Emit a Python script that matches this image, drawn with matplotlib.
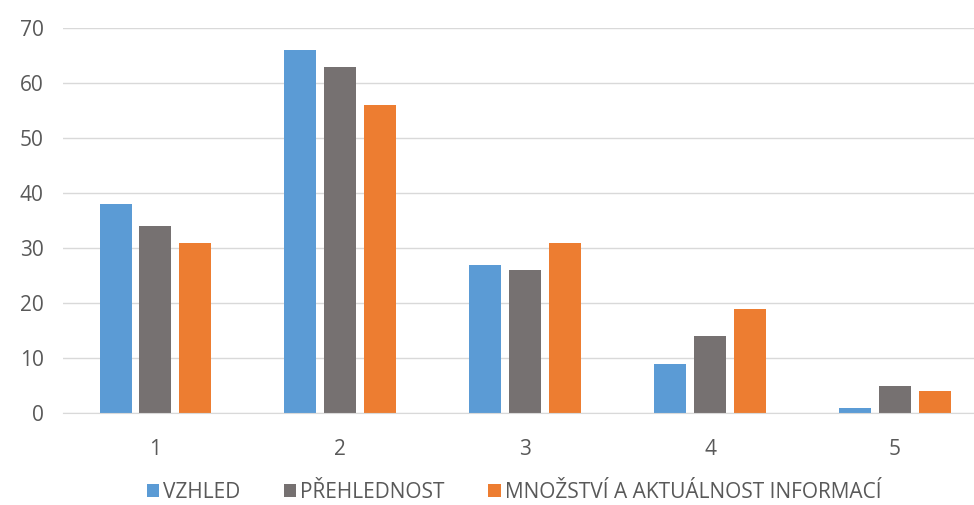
import matplotlib.pyplot as plt
import numpy as np

plt.rcParams['font.family'] = ['Open Sans', 'DejaVu Sans']

categories = ['1', '2', '3', '4', '5']
series_names = ['VZHLED', 'PŘEHLEDNOST', 'MNOŽSTVÍ A AKTUÁLNOST INFORMACÍ']
vzhled = [38, 66, 27, 9, 1]
prehlednost = [34, 63, 26, 14, 5]
mnozstvi = [31, 56, 31, 19, 4]
y_ticks = [0, 10, 20, 30, 40, 50, 60, 70]

colors = ['#5B9BD5', '#767171', '#ED7D31']
text_color = '#595959'

fig = plt.figure(figsize=(9.74, 5.05), dpi=100)
ax = fig.add_axes([63 / 974, 92 / 505, 911 / 974, 385 / 505])

x = np.arange(1, len(categories) + 1)
width = 0.173
step = 0.216
for i, (name, vals) in enumerate(zip(series_names, [vzhled, prehlednost, mnozstvi])):
    ax.bar(x + (i - 1) * step, vals, width, color=colors[i], label=name, zorder=3)

ax.set_ylim(0, 70)
ax.set_xlim(0.5, 5.5 - 13.5 / 185)
ax.set_yticks(y_ticks)
ax.set_xticks(x)
ax.set_xticklabels(categories)
ax.yaxis.grid(True, color='#D9D9D9', linewidth=1, zorder=0)
ax.tick_params(length=0, labelsize=15, colors=text_color)
ax.tick_params(axis='y', pad=14)
ax.tick_params(axis='x', pad=19)
for side in ['top', 'right', 'left']:
    ax.spines[side].set_visible(False)
ax.spines['bottom'].set_color('#D9D9D9')
ax.spines['bottom'].set_zorder(4)

leg = fig.legend(loc='center', bbox_to_anchor=(514 / 974, 1 - 492 / 505), ncol=3,
                 frameon=False, fontsize=15, handlelength=0.58, handleheight=0.58,
                 handletextpad=0.2, columnspacing=2.1, borderpad=0)
for t in leg.get_texts():
    t.set_color(text_color)

fig.savefig('out.png', dpi=100)
